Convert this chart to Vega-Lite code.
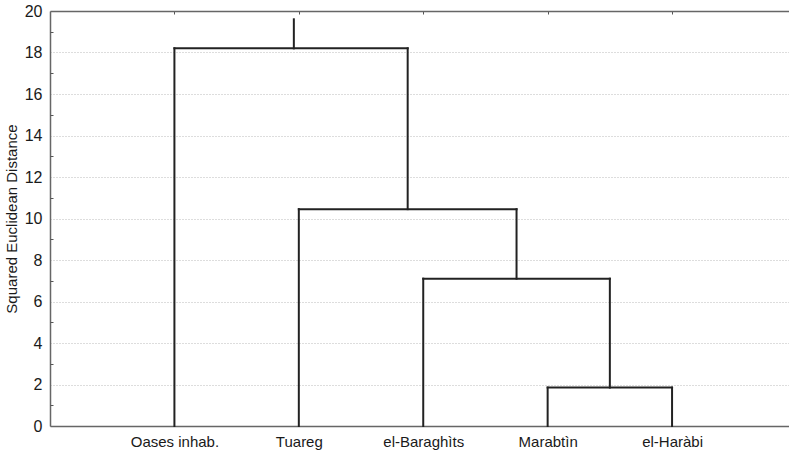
{
  "$schema": "https://vega.github.io/schema/vega-lite/v6.json",
  "autosize": "none",
  "padding": {"left": 50, "top": 11, "right": 0, "bottom": 29},
  "width": 739,
  "height": 415,
  "background": "white",
  "config": {
    "view": {"stroke": null},
    "font": "Liberation Sans",
    "axis": {"labelFont": "Liberation Sans", "titleFont": "Liberation Sans", "labelColor": "#1a1a1a", "titleColor": "#1a1a1a", "domainColor": "#666", "domainWidth": 1.5, "tickColor": "#555"}
  },
  "data": {
    "values": [
      {"x": 1.96, "x2": 1.96, "y": 18.2, "y2": 19.6},
      {"x": 1, "x2": 2.875, "y": 18.2, "y2": 18.2},
      {"x": 1, "x2": 1, "y": 0, "y2": 18.2},
      {"x": 2.875, "x2": 2.875, "y": 10.45, "y2": 18.2},
      {"x": 2, "x2": 3.75, "y": 10.45, "y2": 10.45},
      {"x": 2, "x2": 2, "y": 0, "y2": 10.45},
      {"x": 3.75, "x2": 3.75, "y": 7.1, "y2": 10.45},
      {"x": 3, "x2": 4.5, "y": 7.1, "y2": 7.1},
      {"x": 3, "x2": 3, "y": 0, "y2": 7.1},
      {"x": 4.5, "x2": 4.5, "y": 1.85, "y2": 7.1},
      {"x": 4, "x2": 5, "y": 1.85, "y2": 1.85},
      {"x": 4, "x2": 4, "y": 0, "y2": 1.85},
      {"x": 5, "x2": 5, "y": 0, "y2": 1.85}
    ]
  },
  "resolve": {"axis": {"x": "independent", "y": "independent"}},
  "layer": [
    {
      "mark": {"type": "rule", "color": "#222", "strokeWidth": 2, "strokeCap": "square"},
      "encoding": {
        "x": {"field": "x", "type": "quantitative", "scale": {"domain": [0, 5.94], "nice": false, "zero": false},
          "axis": {"orient": "bottom", "title": null, "values": [1, 2, 3, 4, 5], "ticks": false, "grid": false, "labelFontSize": 15, "labelPadding": 8,
            "labelExpr": "datum.value == 1 ? 'Oases inhab.' : datum.value == 2 ? 'Tuareg' : datum.value == 3 ? 'el-Baraghìts' : datum.value == 4 ? 'Marabtìn' : 'el-Haràbi'"}},
        "x2": {"field": "x2"},
        "y": {"field": "y", "type": "quantitative", "scale": {"domain": [0, 20], "nice": false},
          "axis": {"orient": "left", "title": "Squared Euclidean Distance", "titleFontSize": 15, "titleFontWeight": "normal", "titlePadding": 5,
            "values": [0, 2, 4, 6, 8, 10, 12, 14, 16, 18, 20], "ticks": false, "labelFontSize": 16, "labelPadding": 8,
            "grid": true, "gridColor": "#bbb", "gridDash": [1, 2], "gridWidth": 1}},
        "y2": {"field": "y2"}
      }
    },
    {
      "mark": {"type": "rule", "opacity": 0},
      "encoding": {
        "x": {"field": "x", "type": "quantitative",
          "axis": {"orient": "top", "title": null, "values": [1, 2, 3, 4, 5], "labels": false, "ticks": true, "tickSize": -3, "grid": false}},
        "y": {"field": "y", "type": "quantitative",
          "axis": {"orient": "left", "title": null, "values": [1, 3, 5, 7, 9, 11, 13, 15, 17, 19], "labels": false, "domain": false, "ticks": true, "tickSize": -3, "grid": false}}
      }
    }
  ]
}
